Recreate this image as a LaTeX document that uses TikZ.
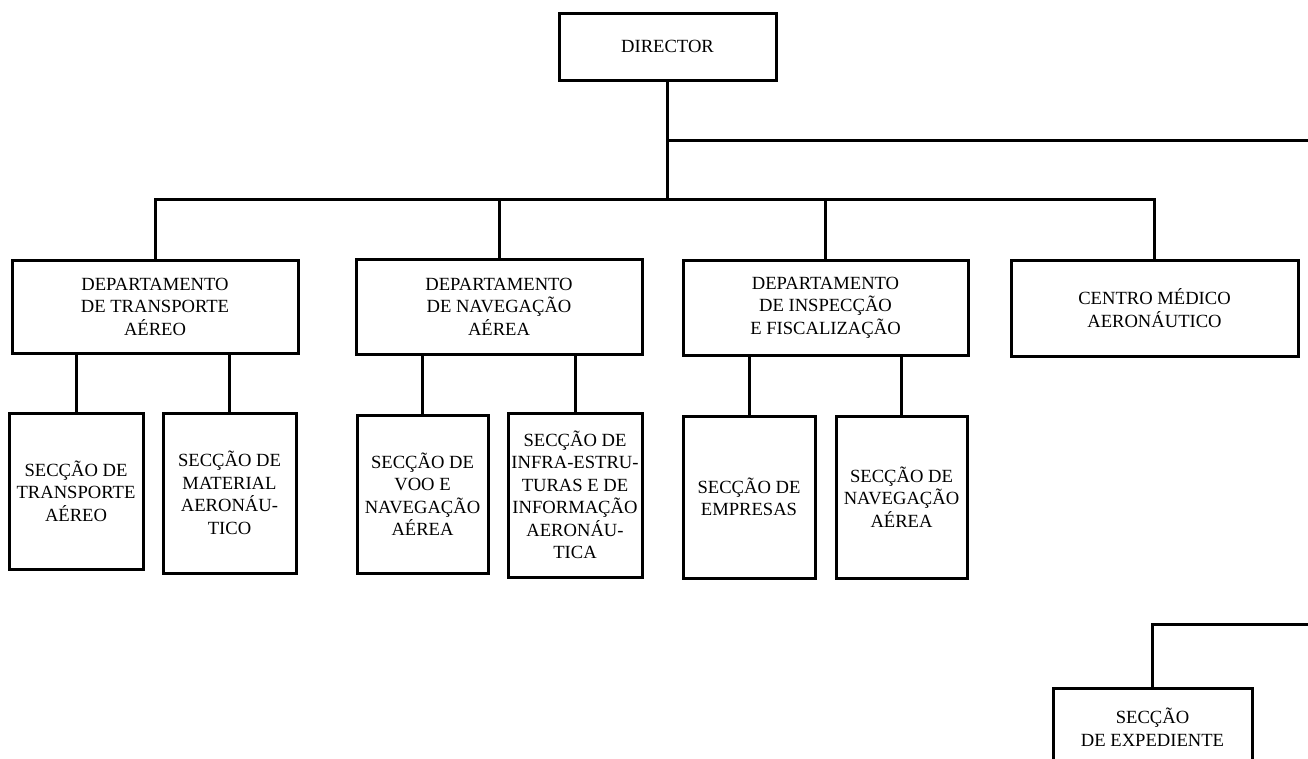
\documentclass[tikz,border=0pt]{standalone}
\usepackage{fontspec}
\setmainfont{Liberation Serif}
\begin{document}
\begin{tikzpicture}[x=1pt,y=-1pt,
  box/.style={draw=black,line width=3pt,fill=white,inner sep=0pt,align=center,
    font=\fontsize{18.6}{22.5}\selectfont},
  link/.style={line width=3pt,line cap=rect}]
\clip (0,0) rectangle (1308,758);
\fill[white] (0,0) rectangle (1308,758);
% top
\node[box,minimum width=217pt,minimum height=67pt] (dir) at (667.5,46.5) {DIRECTOR};
% departments
\node[box,minimum width=286pt,minimum height=93pt] (d1) at (155,306.5) {DEPARTAMENTO\\DE TRANSPORTE\\AÉREO};
\node[box,minimum width=286pt,minimum height=95pt] (d2) at (499,306.5) {DEPARTAMENTO\\DE NAVEGAÇÃO\\AÉREA};
\node[box,minimum width=285pt,minimum height=95pt] (d3) at (825.5,307.5) {DEPARTAMENTO\\DE INSPECÇÃO\\E FISCALIZAÇÃO};
\node[box,minimum width=287pt,minimum height=96pt] (cm) at (1154.5,308) {CENTRO MÉDICO\\AERONÁUTICO};
% sections
\node[box,minimum width=134pt,minimum height=156pt] (s1) at (76,491) {SECÇÃO DE\\TRANSPORTE\\AÉREO};
\node[box,minimum width=133pt,minimum height=160pt] (s2) at (229.5,493) {SECÇÃO DE\\MATERIAL\\AERONÁU-\\TICO};
\node[box,minimum width=131pt,minimum height=158pt] (s3) at (422.5,494) {SECÇÃO DE\\VOO E\\NAVEGAÇÃO\\AÉREA};
\node[box,minimum width=134pt,minimum height=164pt] (s4) at (575,495) {SECÇÃO DE\\INFRA-ESTRU-\\TURAS E DE\\INFORMAÇÃO\\AERONÁU-\\TICA};
\node[box,minimum width=132pt,minimum height=162pt] (s5) at (749,497) {SECÇÃO DE\\EMPRESAS};
\node[box,minimum width=131pt,minimum height=162pt] (s6) at (901.5,497) {SECÇÃO DE\\NAVEGAÇÃO\\AÉREA};
\node[box,minimum width=199pt,minimum height=78pt] (exp) at (1152.5,727) {SECÇÃO\\DE EXPEDIENTE};
% coordinates
\coordinate (bus) at (664,199);
\coordinate (r1) at (1310,140);
\coordinate (r2) at (1310,624);
% connectors
\draw[link] (dir.south) -- (dir.south |- bus);
\draw[link] (dir.south |- r1) -- (r1);
\draw[link] (d1.north) -- (d1.north |- bus) -- (cm.north |- bus) -- (cm.north);
\draw[link] (d2.north) -- (d2.north |- bus);
\draw[link] (d3.north) -- (d3.north |- bus);
\draw[link] (d1.south -| s1.north) -- (s1.north);
\draw[link] (d1.south -| s2.north) -- (s2.north);
\draw[link] (d2.south -| s3.north) -- (s3.north);
\draw[link] (d2.south -| s4.north) -- (s4.north);
\draw[link] (d3.south -| s5.north) -- (s5.north);
\draw[link] (d3.south -| s6.north) -- (s6.north);
\draw[link] (exp.north) -- (exp.north |- r2) -- (r2);
\end{tikzpicture}
\end{document}
